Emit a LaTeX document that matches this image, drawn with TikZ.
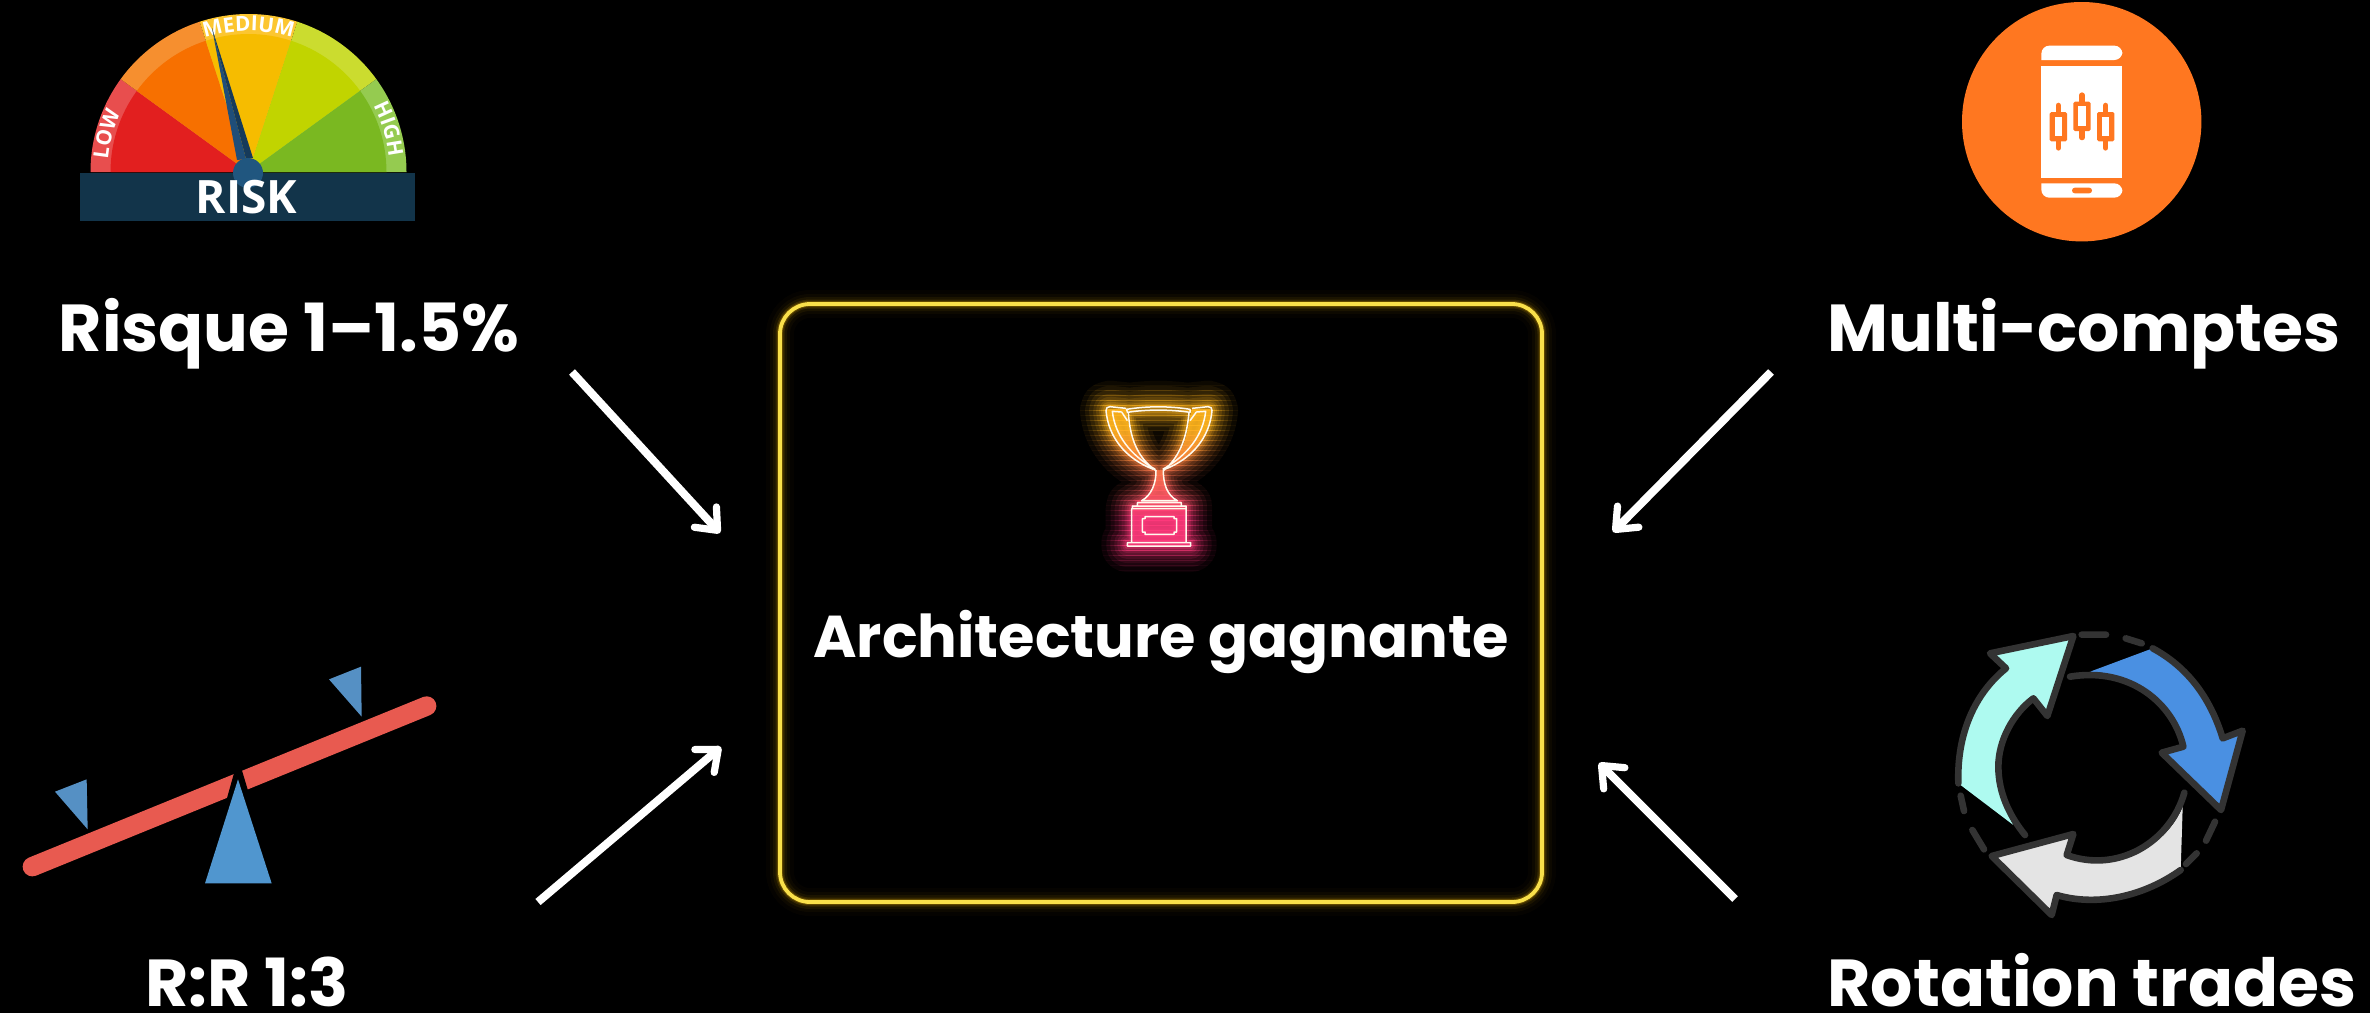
\documentclass[tikz,border=0pt]{standalone}
\usepackage{fontspec}
\setmainfont{Poppins}
\newfontfamily\gaugefont{Open Sans}
\usetikzlibrary{arrows.meta,decorations.text}
\definecolor{boxy}{HTML}{F9E04A}
\definecolor{boxg}{HTML}{E0A800}
\definecolor{tyel}{HTML}{FFB41E}
\definecolor{tpnk}{HTML}{FF3A7C}
\definecolor{ink}{HTML}{333333}
\definecolor{phoneor}{HTML}{FF7720}
\definecolor{beam}{HTML}{E85A50}
\definecolor{fulcrum}{HTML}{5096CF}
\definecolor{weightc}{HTML}{5590C4}
\definecolor{gband}{HTML}{12344A}
\definecolor{ghub}{HTML}{20567F}
\definecolor{gneedle}{HTML}{1F4E79}
\definecolor{gneedled}{HTML}{163A5A}
\tikzset{
  label/.style={text=white,font=\bfseries\fontsize{33.2}{36}\selectfont,anchor=base,inner sep=0pt},
  flow/.style={draw=white,line width=4pt,-{Straight Barb[round,length=9pt,width=15pt,line width=3.6pt]}},
  glowbox/.style={draw=boxy,line width=1.9pt,rounded corners=15pt,inner sep=0pt,
    preaction={draw=boxg,line width=14pt,draw opacity=.025},
    preaction={draw=boxg,line width=10pt,draw opacity=.04},
    preaction={draw=boxg,line width=7pt,draw opacity=.07},
    preaction={draw=boxg,line width=4.5pt,draw opacity=.14},
    preaction={draw=boxg,line width=3pt,draw opacity=.25}},
  iconline/.style={draw=ink,line width=3.3pt,line cap=round,line join=round},
  trophyline/.style={draw=white!92!tyel,line width=.75pt,line join=round},
  gaugetext/.style={decorate,decoration={text along path,text align=center,
    text={|\gaugefont\bfseries\fontsize{10.4}{11}\selectfont\color{white}|#1}}},
}
\def\TrophyLines{
  (230,88) .. controls (290,78) and (360,78) .. (420,88) -- (420,97) .. controls (360,88) and (290,88) .. (232,97) -- cycle
  (235,97) .. controls (240,180) and (265,235) .. (318,272) .. controls (318,310) and (305,345) .. (275,362) -- (382,362) .. controls (350,345) and (340,310) .. (340,272) .. controls (385,235) and (410,180) .. (417,97)
  (262,378) -- (262,368) -- (394,368) -- (394,378)
  (247,386) -- (247,378) -- (408,378) -- (408,386)
  (245,386) rectangle (408,488)
  (232,488) -- (422,488) -- (422,498) -- (232,498) -- cycle
  (285,410) -- (372,410) -- (372,416) -- (380,416) -- (380,456) -- (372,456) -- (372,463) -- (285,463) -- (285,456) -- (277,456) -- (277,416) -- (285,416) -- cycle
  (228,85) -- (180,80) .. controls (172,80) and (168,84) .. (168,92) .. controls (175,170) and (225,235) .. (310,268)
  (215,96) -- (187,94) .. controls (195,165) and (240,225) .. (316,268)
  (215,96) -- (232,122)
  (426,85) -- (474,80) .. controls (482,80) and (486,84) .. (486,92) .. controls (479,170) and (429,235) .. (344,268)
  (439,96) -- (467,94) .. controls (459,165) and (414,225) .. (338,268)
  (439,96) -- (420,122)
}
\def\TrophyFills{
  (168,88) -- (228,85) -- (235,125) .. controls (245,190) and (270,240) .. (318,272) .. controls (225,235) and (175,170) .. (168,92) -- cycle
  (486,88) -- (426,85) -- (417,125) .. controls (409,190) and (384,240) .. (338,272) .. controls (429,235) and (479,170) .. (486,92) -- cycle
  (318,272) .. controls (318,310) and (305,345) .. (275,362) -- (382,362) .. controls (350,345) and (340,310) .. (340,272) -- cycle
  (262,362) rectangle (394,378) (247,378) rectangle (408,488) (232,488) rectangle (422,498)
}
\begin{document}
\begin{tikzpicture}[x=0.5pt,y=-0.5pt]
\useasboundingbox (0,0) rectangle (2370,1012);
\fill[black] (-10,-10) rectangle (2380,1022);

% ---- central box
\node[glowbox,minimum width=381pt,minimum height=299pt] (box) at (1161,603) {};

% ---- trophy with a top-to-bottom colour gradient, drawn in bands
\foreach \by in {375,380,...,575}{
  \pgfmathtruncatemacro{\mixv}{min(100,max(0,(\by-425)*100/90))}
  \colorlet{tband}{tpnk!\mixv!tyel}
  \begin{scope}
    \clip (1000,\by) rectangle (1300,\by+5);
    \begin{scope}[shift={(1050,380)},x=0.166667pt,y=-0.166667pt]
      \foreach \gw/\go in {26/.05,21/.07,17/.09,13/.11,10/.13,7/.16,5/.2,3/.28}{
        \draw[draw=tband,line width=\gw pt,draw opacity=\go,line join=round,line cap=round] \TrophyLines;
      }
      \fill[fill=tband,fill opacity=.85] \TrophyFills;
      \draw[trophyline] \TrophyLines;
    \end{scope}
  \end{scope}
}

% ---- gauge
\begin{scope}[shift={(248.5,172)},x=0.5pt,y=0.5pt]
  \foreach \aa/\ab/\co/\ci in {144/180/E84E4E/E21F1F,108/144/F68F2F/F77000,72/108/FCC630/F6BC00,36/72/CBDC2F/C1D400,0/36/95CB50/7AB821}{
    \definecolor{co}{HTML}{\co}\definecolor{ci}{HTML}{\ci}
    \fill[co] (0,0) -- (\aa:158) arc[start angle=\aa,end angle=\ab,radius=158] -- cycle;
    \fill[ci] (0,0) -- (\aa:138) arc[start angle=\aa,end angle=\ab,radius=138] -- cycle;
  }
  \path[gaugetext=LOW] (187:141) arc[start angle=187,end angle=143,radius=141];
  \path[gaugetext=MEDIUM] (120:141) arc[start angle=120,end angle=60,radius=141];
  \path[gaugetext=HIGH] (40:141) arc[start angle=40,end angle=-6,radius=141];
\end{scope}
\fill[gneedle] (212,28) -- (237,160) -- (246,159) -- cycle;
\fill[gneedled] (212,28) -- (246,159) -- (253,158) -- cycle;
\fill[gband] (80,173) rectangle (415,221);
\fill[ghub] (248,173) circle[radius=15];
\node[text=white,font=\gaugefont\bfseries\fontsize{23}{24}\selectfont,anchor=base,inner sep=0pt] (risk) at (246.5,213) {RISK};

% ---- phone icon
\fill[phoneor] (2081.7,121.7) circle[radius=119.7];
\begin{scope}[shift={(1940,0)},x=0.166667pt,y=-0.166667pt]
  \fill[white,rounded corners=4pt] (304,180) -- (304,137) -- (547,137) -- (547,180) [sharp corners] -- cycle;
  \fill[white] (304,197) rectangle (547,533);
  \fill[white,rounded corners=4pt] (304,550) -- (304,593) -- (547,593) -- (547,550) [sharp corners] -- cycle;
  \fill[phoneor,rounded corners=1.4pt] (396,563) rectangle (456,580);
  \foreach \cx/\cy in {355/380,426/349,497/380}{
    \draw[phoneor,line width=2.6pt,line cap=round] (\cx,\cy-64) -- (\cx,\cy-43) (\cx,\cy+43) -- (\cx,\cy+64);
    \fill[phoneor,rounded corners=.8pt] (\cx-26,\cy-44) rectangle (\cx+26,\cy+44);
    \fill[white] (\cx-11,\cy-30) rectangle (\cx+11,\cy+29);
  }
\end{scope}

% ---- seesaw
\begin{scope}[shift={(0,640)},x=0.166667pt,y=-0.166667pt]
  \draw[beam,line width=9.7pt,line cap=round] (97,680) -- (1280,198);
  \fill[black] (706,385) -- (724,385) -- (748,465) -- (678,485) -- cycle;
  \fill[fulcrum] (714,418) -- (815,730) -- (615,730) -- cycle;
  \fill[weightc] (165,455) -- (260,418) -- (263,568) -- cycle;
  \fill[weightc] (987,118) -- (1083,80) -- (1085,230) -- cycle;
\end{scope}

% ---- rotation icon
\begin{scope}[shift={(1930,610)},x=0.166667pt,y=-0.166667pt]
  \definecolor{mint}{HTML}{AEFAF0}
  \definecolor{bluea}{HTML}{4A90E2}
  \definecolor{greya}{HTML}{E4E4E4}
  % mint
  \fill[mint] (85,520) .. controls (80,370) and (135,250) .. (228,175) -- (180,130) -- (430,78) -- (352,318) -- (310,265) .. controls (250,310) and (205,390) .. (205,470) .. controls (205,550) and (225,600) .. (250,645) -- cycle;
  \draw[iconline] (85,520) .. controls (80,370) and (135,250) .. (228,175) -- (180,130) -- (430,78) -- (352,318) -- (310,265) .. controls (250,310) and (205,390) .. (205,470) .. controls (205,550) and (240,620) .. (285,675);
  % blue
  \fill[bluea] (480,185) .. controls (620,190) and (730,280) .. (760,410) -- (695,428) -- (873,600) -- (938,362) -- (878,385) .. controls (840,260) and (770,170) .. (668,115) -- cycle;
  \draw[iconline] (420,200) .. controls (600,170) and (730,280) .. (760,410) -- (695,428) -- (873,600) -- (938,362) -- (878,385) .. controls (840,260) and (770,170) .. (668,115);
  % grey
  \fill[greya] (758,590) .. controls (710,710) and (560,790) .. (410,735) -- (430,672) -- (185,738) -- (365,915) -- (380,855) .. controls (500,890) and (640,860) .. (752,780) -- cycle;
  \draw[iconline] (763,548) .. controls (720,700) and (560,790) .. (410,735) -- (430,672) -- (185,738) -- (365,915) -- (380,855) .. controls (500,890) and (640,860) .. (752,780);
  % dashes
  \draw[iconline] (455,74) -- (528,74) (587,85) -- (635,100) (855,635) -- (828,692) (800,730) -- (768,762) (92,557) -- (102,603) (127,660) -- (162,718);
\end{scope}

% ---- labels
\node[label] (risque) at (289,351) {Risque 1–1.5\%};
\node[label] (multi) at (2084,351) {Multi-comptes};
\node[label,font=\bfseries\fontsize{29.5}{32}\selectfont] (archi) at (1161,657) {Architecture gagnante};
\node[label] (rr) at (247,1006) {R:R 1:3};
\node[label] (rot) at (2092,1006) {Rotation trades};

% ---- connectors
\coordinate (a1s) at (572,372); \coordinate (a1e) at (720,533);
\coordinate (a2s) at (1771,372); \coordinate (a2e) at (1613,532);
\coordinate (a3s) at (538,902); \coordinate (a3e) at (721,747);
\coordinate (a4s) at (1735,899); \coordinate (a4e) at (1599,763);
\draw[flow] (a1s) -- (a1e);
\draw[flow] (a2s) -- (a2e);
\draw[flow] (a3s) -- (a3e);
\draw[flow] (a4s) -- (a4e);
\end{tikzpicture}
\end{document}
